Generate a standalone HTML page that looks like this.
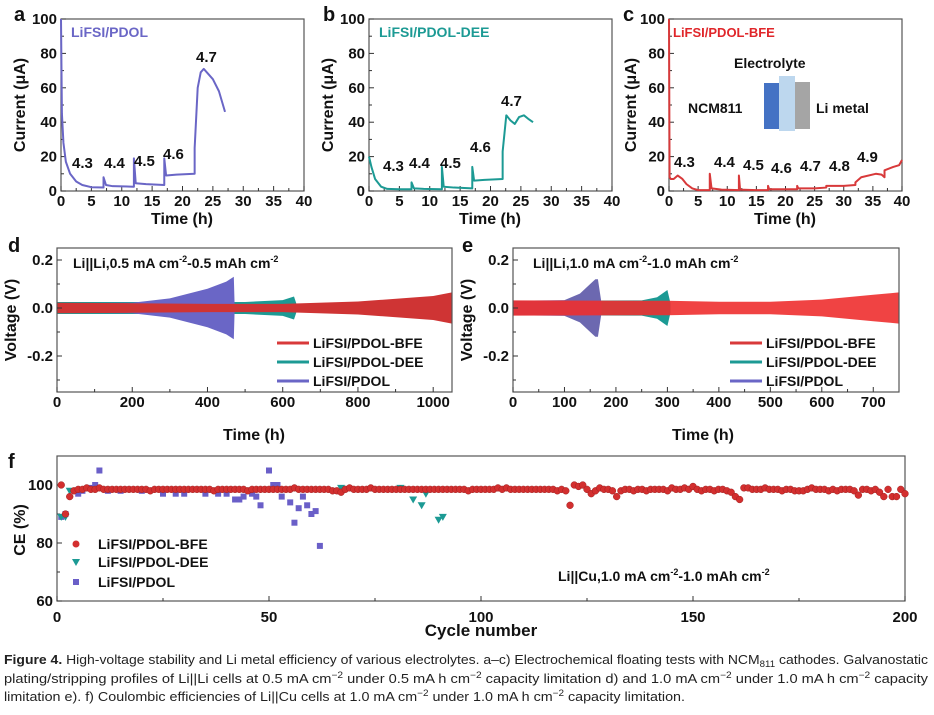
<!DOCTYPE html>
<html><head><meta charset="utf-8"><style>
html,body{margin:0;padding:0;background:#fff;}
svg{display:block;font-family:"Liberation Sans",Arial,sans-serif;}
</style></head><body>
<svg id="fig" width="934" height="715" viewBox="0 0 934 715"></svg>
<script>
// ---------- DATA ----------
const aTime=[0,0.15,0.4,0.8,1.5,2.5,3.5,5,7,7,7.4,8.5,12,12,12.3,14,17,17,17.3,19,22,22,22.5,23,23.5,24,25,26,27];
const aCurr=[100,45,28,17,10,5.5,3.5,2.2,2,8,3.5,2.8,2.5,19,4.5,4,3.5,19,9,9.5,10,25,60,69,71,69,65,58,46];
const bTime=[0,0.4,1,2,3,5,7,7,7.4,9,12,12,12.3,14,17,17,17.3,19,22,22,22.6,23.3,24,24.7,25.5,26.2,27];
const bCurr=[20,14,7,2.5,1.2,1,1,5,1.5,1.2,1,14,2.5,2,1.5,14,6,6.5,7,23,44,41,39,43,44,42,40];
const cTime=[0,0.1,0.3,0.8,1.5,2.3,3,4,5,7,7,7.3,9,12,12,12.2,15,17,17,17.2,20,22,22,22.2,25,27,27,30,32,32,33,35.5,36.5,37,37,38.5,39.5,40];
const cCurr=[100,8,7,7,9,7,4,1.5,0.5,0.5,10,1.5,0.8,0.5,9,0.8,0.5,0.5,3,1,1,1,3,1.5,1.5,2,3,3,3.5,5,8,10,9.5,8,12,14,15,18];
const dBfeT=[0,200,400,600,800,1000,1050];
const dBfeA=[0.022,0.02,0.017,0.017,0.027,0.05,0.065];
const dDeeT=[0,500,600,630,636];
const dDeeA=[0.025,0.025,0.033,0.048,0.02];
const dPdolT=[0,200,300,400,450,470,472];
const dPdolA=[0.02,0.022,0.04,0.08,0.11,0.13,0.02];
const eBfeT=[0,300,400,500,600,700,750];
const eBfeA=[0.032,0.03,0.026,0.026,0.035,0.055,0.065];
const eDeeT=[0,250,280,300,306];
const eDeeA=[0.03,0.032,0.045,0.075,0.02];
const ePdolT=[0,100,130,150,160,165,172];
const ePdolA=[0.03,0.033,0.06,0.1,0.12,0.12,0.02];
const fBfeCE=[100,90,96,98,98.5,98.5,99,98.5,98.5,99,98.5,98.5,98.5,98.5,98.5,98.5,98.5,98.5,98.5,98.5,
98.5,98,98.5,98.5,98.5,98.5,98.5,98.5,98.5,98.5,98.5,98.5,98.5,98.5,98.5,98.5,98,98.5,98.5,98.5,
98.5,98.5,98.5,98.5,98,98.5,98.5,98.5,98.5,98.5,98.5,98.5,98.5,98.5,98.5,99,98.5,98.5,98.5,98.5,
98.5,98.5,98.5,98.5,98,98,97.5,98.5,99,98.5,98.5,98.5,98.5,99,98.5,98.5,98.5,98.5,98.5,98.5,
98.5,98.5,98.5,98.5,98.5,98.5,98.5,98.5,98.5,98.5,98.5,98.5,98.5,98.5,98.5,98.5,98,98.5,98.5,98.5,
98.5,98.5,98.5,99,98.5,99,98.5,98.5,98.5,98.5,98.5,98.5,98.5,98.5,98.5,98.5,98.5,98,98.5,98,
93,100,99.5,100,98.5,97,98,99,98.5,98.5,98,96,98,98.5,98.5,98,98.5,98.5,98,98.5,
98.5,98.5,98.5,98,99,98.5,98.5,99,98.5,99.5,98.5,98,98.5,98.5,98,98.5,98.5,98,97.5,96,
95,99,99,98.5,98.5,98.5,99,98.5,98.5,98.5,98,98.5,98.5,98,98,98,98.5,99,98.5,98.5,
98.5,98,98.5,98,98.5,98.5,98.5,98,96.5,98.5,98.5,98,98.5,97.5,96,98.5,96,96,98.5,97];
const fDeeCycle=[1,2,3,67,81,84,86,87,90,91];
const fDeeCE=[89,89,98,99,99,95,93,97,88,89];
const fPdolCycle=[1,2,5,6,8,9,10,12,15,20,25,28,30,35,38,40,42,43,44,46,47,48,50,51,52,53,55,56,57,58,59,60,61,62];
const fPdolCE=[89,90,97,98,99,100,105,98,98,98,97,97,97,97,97,97,95,95,96,97,96,93,105,100,100,96,94,87,92,96,93,90,91,79];
const xTicksA=[0,5,10,15,20,25,30,35,40];
const yTicksA=[0,20,40,60,80,100];
const xTicksD=[0,200,400,600,800,1000];
const xTicksE=[0,100,200,300,400,500,600,700];
const yTicksV=[0.2,0.0,-0.2];
const yTicksVLabels=['0.2','0.0','-0.2'];
const xTicksF=[0,50,100,150,200];
const yTicksF=[60,80,100];

// ---------- helpers ----------
const NS='http://www.w3.org/2000/svg';
const svg=document.getElementById('fig');
const PUR='#6a66c6',TEAL='#1c9a94',RED='#d8393a';
function mk(tag,attrs,parent){const e=document.createElementNS(NS,tag);for(const k in attrs)e.setAttribute(k,attrs[k]);(parent||svg).appendChild(e);return e;}
function txt(x,y,s,attrs,parent){const e=mk('text',Object.assign({x:x,y:y},attrs||{}),parent);e.textContent=s;return e;}
function scale(L,R,T,B,x0,x1,y0,y1){return {L,R,T,B,x:v=>L+(v-x0)/(x1-x0)*(R-L),y:v=>B-(v-y0)/(y1-y0)*(B-T)};}
function frame(s,name){const r=mk('rect',{x:s.L,y:s.T,width:s.R-s.L,height:s.B-s.T,fill:'none',stroke:'#555','stroke-width':1.2});

}
function xTicks(s,ticks,labels,minor,fs,name,off){const g=mk('g',{});


const o=off||15;
ticks.forEach((v,i)=>{mk('line',{x1:s.x(v),x2:s.x(v),y1:s.B,y2:s.B-5,stroke:'#333','stroke-width':1},g);
txt(s.x(v),s.B+o,labels?labels[i]:String(v),{'text-anchor':'middle','font-size':fs,'font-weight':'bold',fill:'#111'},g);});
minor.forEach(v=>mk('line',{x1:s.x(v),x2:s.x(v),y1:s.B,y2:s.B-3,stroke:'#333','stroke-width':1},g));}
function yTicks(s,ticks,labels,minor,fs,name){const g=mk('g',{});


ticks.forEach((v,i)=>{mk('line',{x1:s.L,x2:s.L+5,y1:s.y(v),y2:s.y(v),stroke:'#333','stroke-width':1},g);
txt(s.L-4,s.y(v)+5,labels?labels[i]:String(v),{'text-anchor':'end','font-size':fs,'font-weight':'bold',fill:'#111'},g);});
minor.forEach(v=>mk('line',{x1:s.L,x2:s.L+3,y1:s.y(v),y2:s.y(v),stroke:'#333','stroke-width':1},g));}
function poly(s,xs,ys,color,name){const p=mk('polyline',{points:xs.map((t,i)=>s.x(t)+','+s.y(ys[i])).join(' '),fill:'none',stroke:color,'stroke-width':2,'stroke-linejoin':'round'});

}
function env(s,ts,as,color,op,name){const up=ts.map((t,i)=>s.x(t)+','+s.y(as[i]));const dn=ts.map((t,i)=>s.x(t)+','+s.y(-as[i])).reverse();
const p=mk('polygon',{points:up.concat(dn).join(' '),fill:color,'fill-opacity':op});

}
function label(x,y,s,attrs,name){const t=txt(x,y,s,attrs);

return t;}
function rotLabel(x,y,s,fs,name){const t=txt(x,y,s,{'text-anchor':'middle','font-size':fs,'font-weight':'bold',transform:'rotate(-90 '+x+' '+y+')',fill:'#111'});

}
function Bf(fs,extra){return Object.assign({'font-size':fs,'font-weight':'bold',fill:'#111'},extra||{});}
const minA=[2.5,7.5,12.5,17.5,22.5,27.5,32.5,37.5], minAy=[10,30,50,70,90];

// ---------- panel a ----------
const sa=scale(61,304,19,191,0,40,0,100);
frame(sa,'panel-a');
xTicks(sa,xTicksA,null,minA,15,'panel-a-x-ticks');
yTicks(sa,yTicksA,null,minAy,15,'panel-a-y-ticks');
poly(sa,aTime,aCurr,PUR,'panel-a-pdol-curve');
label(14,21,'a',Bf(20),'panel-a-letter');
label(182,224,'Time (h)',Bf(16,{'text-anchor':'middle'}),'panel-a-x-title');
rotLabel(25,105,'Current (μA)',16,'panel-a-y-title');
label(71,37,'LiFSI/PDOL',Bf(14,{fill:PUR}),'panel-a-series-label');
[['4.3',72,168],['4.4',104,168],['4.5',134,166],['4.6',163,159],['4.7',196,62]].forEach(v=>label(v[1],v[2],v[0],Bf(15),'panel-a-voltage-'+v[0]));

// ---------- panel b ----------
const sb=scale(369,612,19,191,0,40,0,100);
frame(sb,'panel-b');
xTicks(sb,xTicksA,null,minA,15,'panel-b-x-ticks');
yTicks(sb,yTicksA,null,minAy,15,'panel-b-y-ticks');
poly(sb,bTime,bCurr,TEAL,'panel-b-dee-curve');
label(323,21,'b',Bf(20),'panel-b-letter');
label(490,224,'Time (h)',Bf(16,{'text-anchor':'middle'}),'panel-b-x-title');
rotLabel(333,105,'Current (μA)',16,'panel-b-y-title');
label(379,37,'LiFSI/PDOL-DEE',Bf(14,{fill:TEAL}),'panel-b-series-label');
[['4.3',383,171],['4.4',409,168],['4.5',440,168],['4.6',470,152],['4.7',501,106]].forEach(v=>label(v[1],v[2],v[0],Bf(15),'panel-b-voltage-'+v[0]));

// ---------- panel c ----------
const sc=scale(669,902,19,191,0,40,0,100);
frame(sc,'panel-c');
xTicks(sc,xTicksA,null,minA,15,'panel-c-x-ticks');
yTicks(sc,yTicksA,null,minAy,15,'panel-c-y-ticks');
poly(sc,cTime,cCurr,RED,'panel-c-bfe-curve');
label(623,21,'c',Bf(20),'panel-c-letter');
label(785,224,'Time (h)',Bf(16,{'text-anchor':'middle'}),'panel-c-x-title');
rotLabel(636,105,'Current (μA)',16,'panel-c-y-title');
label(673,37,'LiFSI/PDOL-BFE',Bf(13,{fill:'#e0262a'}),'panel-c-series-label');
label(734,68,'Electrolyte',Bf(14),'inset-electrolyte-label');
label(688,113,'NCM811',Bf(14),'inset-ncm811-label');
label(816,113,'Li metal',Bf(14),'inset-li-metal-label');
{let r=mk('rect',{x:764,y:83,width:16,height:46,fill:'#4472c4'});
r=mk('rect',{x:779,y:76,width:16,height:55,fill:'#bdd7ee'});
r=mk('rect',{x:795,y:82,width:15,height:47,fill:'#a5a5a5'});}
[['4.3',674,167],['4.4',714,167],['4.5',743,170],['4.6',771,173],['4.7',800,171],['4.8',829,171],['4.9',857,162]].forEach(v=>label(v[1],v[2],v[0],Bf(15),'panel-c-voltage-'+v[0]));

// ---------- panel d ----------
const sd=scale(57,452,248,392,0,1050,-0.35,0.25);
env(sd,dDeeT,dDeeA,TEAL,1,'panel-d-dee-band');
env(sd,dPdolT,dPdolA,PUR,1,'panel-d-pdol-band');
env(sd,dBfeT,dBfeA,'#cf3434',1,'panel-d-bfe-band');
frame(sd,'panel-d');
xTicks(sd,xTicksD,null,[100,300,500,700,900],15,'panel-d-x-ticks');
yTicks(sd,yTicksV,yTicksVLabels,[0.1,-0.1,-0.3],15,'panel-d-y-ticks');
label(8,252,'d',Bf(20),'panel-d-letter');
label(254,440,'Time (h)',Bf(16,{'text-anchor':'middle'}),'panel-d-x-title');
rotLabel(16,320,'Voltage (V)',16,'panel-d-y-title');
{const t=label(73,268,'Li||Li,0.5 mA cm',Bf(14),'panel-d-condition-label');
let s=mk('tspan',{'font-size':9,dy:-6},t);s.textContent='-2';s=mk('tspan',{dy:6},t);s.textContent='-0.5 mAh cm';s=mk('tspan',{'font-size':9,dy:-6},t);s.textContent='-2';}
function legend(x,y0,prefix){[['LiFSI/PDOL-BFE',RED],['LiFSI/PDOL-DEE',TEAL],['LiFSI/PDOL',PUR]].forEach((e,i)=>{const y=y0+i*19;
const g=mk('g',{});


mk('line',{x1:x,x2:x+32,y1:y,y2:y,stroke:e[1],'stroke-width':3},g);
txt(x+36,y+5,e[0],Bf(14),g);});}
legend(277,343,'panel-d');

// ---------- panel e ----------
const se=scale(513,899,248,392,0,750,-0.35,0.25);
env(se,eDeeT,eDeeA,TEAL,1,'panel-e-dee-band');
env(se,ePdolT,ePdolA,'#6c68b0',1,'panel-e-pdol-band');
env(se,eBfeT,eBfeA,'#ee2f2f',0.9,'panel-e-bfe-band');
frame(se,'panel-e');
xTicks(se,xTicksE,null,[50,150,250,350,450,550,650],15,'panel-e-x-ticks');
yTicks(se,yTicksV,yTicksVLabels,[0.1,-0.1,-0.3],15,'panel-e-y-ticks');
label(462,252,'e',Bf(20),'panel-e-letter');
label(703,440,'Time (h)',Bf(16,{'text-anchor':'middle'}),'panel-e-x-title');
rotLabel(472,320,'Voltage (V)',16,'panel-e-y-title');
{const t=label(533,268,'Li||Li,1.0 mA cm',Bf(14),'panel-e-condition-label');
let s=mk('tspan',{'font-size':9,dy:-6},t);s.textContent='-2';s=mk('tspan',{dy:6},t);s.textContent='-1.0 mAh cm';s=mk('tspan',{'font-size':9,dy:-6},t);s.textContent='-2';}
legend(730,343,'panel-e');

// ---------- panel f ----------
const sf=scale(57,905,456,601,0,200,60,110);
frame(sf,'panel-f');
xTicks(sf,xTicksF,null,[25,75,125,175],15,'panel-f-x-ticks',21);
yTicks(sf,yTicksF,null,[70,90],15,'panel-f-y-ticks');
fPdolCycle.forEach((c,i)=>{const r=mk('rect',{x:sf.x(c)-3,y:sf.y(fPdolCE[i])-3,width:6,height:6,fill:'#6a5fc8'});

});
fDeeCycle.forEach((c,i)=>{const x=sf.x(c),y=sf.y(fDeeCE[i]);const p=mk('polygon',{points:(x-4)+','+(y-3)+' '+(x+4)+','+(y-3)+' '+x+','+(y+4),fill:TEAL});

});
fBfeCE.forEach((v,i)=>{const c=mk('circle',{cx:sf.x(i+1),cy:sf.y(v),r:3.4,fill:'#d32f2f',stroke:'#a02020','stroke-width':0.5});

});
label(8,468,'f',Bf(20),'panel-f-letter');
label(481,636,'Cycle number',Bf(17,{'text-anchor':'middle'}),'panel-f-x-title');
rotLabel(25,530,'CE (%)',16,'panel-f-y-title');
{const g=mk('g',{});
mk('circle',{cx:76,cy:544,r:3.5,fill:'#d32f2f'},g);txt(98,549,'LiFSI/PDOL-BFE',Bf(14),g);
mk('polygon',{points:'72,559 80,559 76,566',fill:TEAL},g);txt(98,567,'LiFSI/PDOL-DEE',Bf(14),g);
mk('rect',{x:73,y:579,width:6,height:6,fill:'#6a5fc8'},g);txt(98,587,'LiFSI/PDOL',Bf(14),g);}
{const t=label(558,581,'Li||Cu,1.0 mA cm',Bf(14),'panel-f-condition-label');
let s=mk('tspan',{'font-size':9,dy:-6},t);s.textContent='-2';s=mk('tspan',{dy:6},t);s.textContent='-1.0 mAh cm';s=mk('tspan',{'font-size':9,dy:-6},t);s.textContent='-2';}

// ---------- caption ----------
const capFont={'font-size':13,fill:'#222','font-family':'"Liberation Sans Narrow","Liberation Sans",sans-serif'};
function capLine(y,parts,len,name){const t=mk('text',Object.assign({x:4,y:y,textLength:len,lengthAdjust:'spacingAndGlyphs'},capFont));


parts.forEach(p=>{const s=mk('tspan',p[1]==='b'?{'font-weight':'bold'}:p[1]==='sup'?{'font-size':9,dy:-5}:p[1]==='sub'?{'font-size':9,dy:3}:p[1]==='back'?{dy:p[2]}:{},t);s.textContent=p[0];});}
capLine(664,[['Figure 4.','b'],['  High-voltage stability and Li metal efficiency of various electrolytes. a–c) Electrochemical floating tests with NCM'],['811','sub'],[' cathodes. Galvanostatic','back',-3]],924,'caption-line-1');
capLine(683,[['plating/stripping profiles of Li||Li cells at 0.5 mA cm'],['−2','sup'],[' under 0.5 mA h cm','back',5],['−2','sup'],[' capacity limitation d) and 1.0 mA cm','back',5],['−2','sup'],[' under 1.0 mA h cm','back',5],['−2','sup'],[' capacity','back',5]],924,'caption-line-2');
capLine(701,[['limitation e). f) Coulombic efficiencies of Li||Cu cells at 1.0 mA cm'],['−2','sup'],[' under 1.0 mA h cm','back',5],['−2','sup'],[' capacity limitation.','back',5]],681,'caption-line-3');
</script>
</body></html>
